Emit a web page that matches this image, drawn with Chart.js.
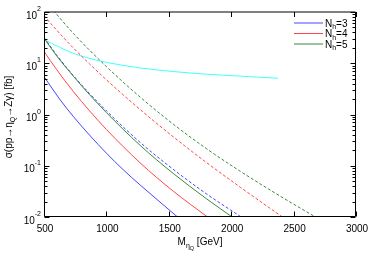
<!DOCTYPE html>
<html>
<head>
<meta charset="utf-8">
<script src="https://cdn.jsdelivr.net/npm/chart.js@4.4.0/dist/chart.umd.min.js"></script>
<style>
html, body { margin: 0; padding: 0; background: #fff; }
#wrap { width: 374px; height: 261px; }
</style>
</head>
<body>
<div id="wrap"><canvas id="chart" width="374" height="261"></canvas></div>
<script>
// valeurs (masse en GeV, sigma en fb)
const massNh3 = [500, 625, 735, 865, 1000, 1135, 1270, 1405, 1570];
const sigmaNh3 = [5.5, 2.0, 0.915, 0.396, 0.176, 0.0836, 0.0422, 0.022, 0.0100];

const massNh4 = [500, 600, 735, 865, 1000, 1270, 1535, 1810];
const sigmaNh4 = [17, 7.6, 2.81, 1.18, 0.51, 0.114, 0.032, 0.0100];

const massNh5 = [500, 600, 735, 865, 1000, 1270, 1535, 1805, 2008];
const sigmaNh5 = [31, 14.1, 5.6, 2.43, 1.09, 0.25, 0.071, 0.0224, 0.0100];

const massNh3b = [500, 600, 735, 865, 1000, 1270, 1535, 1805, 2080];
const sigmaNh3b = [32, 14.6, 5.75, 2.56, 1.18, 0.286, 0.0854, 0.0279, 0.0100];

const massNh4b = [500, 600, 735, 865, 1000, 1270, 1535, 1805, 2075, 2410];
const sigmaNh4b = [85, 44.7, 19.9, 9.7, 4.75, 1.25, 0.368, 0.114, 0.0378, 0.0100];

const massNh5b = [500, 586, 735, 1000, 1270, 1535, 1805, 2075, 2395, 2675];
const sigmaNh5b = [181, 100, 38.3, 8.6, 2.19, 0.65, 0.213, 0.0774, 0.0253, 0.0100];

const massCyan = [500, 625, 735, 895, 1000, 1270, 1535, 1805, 2075, 2375];
const sigmaCyan = [29, 20.5, 15.6, 11.9, 10.4, 8.1, 6.9, 6.1, 5.6, 5.1];

const xTicks = [500, 1000, 1500, 2000, 2500, 3000];
const yExponents = [-2, -1, 0, 1, 2];
const legendLabels = ['3', '4', '5'];

const azul = '#4646ff';
const rojo = '#ff4646';
const verde = '#3a8a3a';
const cian = '#40ffff';

const pts = (m, s) => m.map((v, i) => ({ x: v, y: s[i] }));

const fuente = '"Liberation Sans", Arial, sans-serif';

// texto con sub/superindices: partes = [[texto, tamaño, desplazamiento]]
const anchoTexto = (ctx, partes) => partes.reduce((w, p) => {
    ctx.font = p[1] + 'px ' + fuente;
    return w + ctx.measureText(p[0]).width;
}, 0);

const dibujarTexto = (ctx, partes, x, y) => {
    let cx = x;
    partes.forEach(p => {
        ctx.font = p[1] + 'px ' + fuente;
        ctx.fillText(p[0], cx, y + p[2]);
        cx += ctx.measureText(p[0]).width;
    });
};

const marco = {
    id: 'marco',
    afterDraw(chart) {
        const { ctx, chartArea: a, scales: { x, y } } = chart;
        const L = Math.round(a.left) + 0.5, R = Math.round(a.right) - 0.5;
        const B = Math.round(a.bottom) - 0.5, T = a.top;
        ctx.save();
        ctx.strokeStyle = '#000';
        ctx.lineWidth = 1;
        ctx.beginPath();
        ctx.moveTo(L, T); ctx.lineTo(R, T); ctx.lineTo(R, B); ctx.lineTo(L, B); ctx.closePath();
        xTicks.forEach(v => {
            const px = Math.round(x.getPixelForValue(v)) + 0.5;
            ctx.moveTo(px, B); ctx.lineTo(px, B - 5);
            ctx.moveTo(px, T); ctx.lineTo(px, T + 5);
        });
        yExponents.forEach(e => {
            const py = Math.round(y.getPixelForValue(Math.pow(10, e))) + 0.5;
            ctx.moveTo(L, py); ctx.lineTo(L + 5, py);
            ctx.moveTo(R, py); ctx.lineTo(R - 5, py);
            if (e < 2) {
                for (let k = 2; k <= 9; k++) {
                    const pm = Math.round(y.getPixelForValue(k * Math.pow(10, e))) + 0.5;
                    ctx.moveTo(L, pm); ctx.lineTo(L + 3, pm);
                    ctx.moveTo(R, pm); ctx.lineTo(R - 3, pm);
                }
            }
        });
        ctx.stroke();

        ctx.fillStyle = '#000';
        ctx.textBaseline = 'alphabetic';
        ctx.textAlign = 'left';
        ctx.font = '10px ' + fuente;
        xTicks.forEach(v => {
            const px = x.getPixelForValue(v);
            const w = ctx.measureText(String(v)).width;
            ctx.fillText(String(v), px - w / 2 + 1, 232);
        });
        yExponents.forEach(e => {
            const py = y.getPixelForValue(Math.pow(10, e));
            const partes = [['10', 10, 6.5], [String(e), 7, -1]];
            const w = anchoTexto(ctx, partes);
            dibujarTexto(ctx, partes, 41 - w, py);
        });

        // titulo eje x
        const tx = [['M', 10, 0], ['\u03B7', 7, 3], ['Q', 5.5, 5], [' [GeV]', 10, 0]];
        const wx = anchoTexto(ctx, tx);
        dibujarTexto(ctx, tx, (a.left + a.right) / 2 - wx / 2, 245);

        // titulo eje y
        const ty = [['\u03C3(pp\u2192\u03B7', 10, 0], ['Q', 7, 3], ['\u2192Z\u03B3) [fb]', 10, 0]];
        const wy = anchoTexto(ctx, ty);
        const largo = 108;
        ctx.save();
        ctx.translate(12, 117);
        ctx.rotate(-Math.PI / 2);
        if (wy > largo) ctx.scale(largo / wy, 1);
        dibujarTexto(ctx, ty, -wy / 2, 0);
        ctx.restore();

        // leyenda
        const colores = [azul, rojo, verde];
        legendLabels.forEach((lab, i) => {
            const ry = 23 + i * 10.5;
            ctx.strokeStyle = colores[i];
            ctx.beginPath();
            ctx.moveTo(294, ry); ctx.lineTo(323, ry);
            ctx.stroke();
            dibujarTexto(ctx, [['N', 10, 3.5], ['h', 7, 6], ['=' + lab, 10, 3.5]], 325, ry);
        });
        ctx.restore();
    }
};

const serie = (m, s, color, dash) => ({
    data: pts(m, s),
    borderColor: color,
    borderWidth: 1,
    borderDash: dash ? [3, 2] : [],
    pointRadius: 0,
    fill: false,
    cubicInterpolationMode: 'monotone'
});

new Chart(document.getElementById('chart').getContext('2d'), {
    type: 'line',
    data: {
        datasets: [
            serie(massNh3, sigmaNh3, azul, false),
            serie(massNh4, sigmaNh4, rojo, false),
            serie(massNh5, sigmaNh5, verde, false),
            serie(massNh3b, sigmaNh3b, azul, true),
            serie(massNh4b, sigmaNh4b, rojo, true),
            serie(massNh5b, sigmaNh5b, verde, true),
            serie(massCyan, sigmaCyan, cian, false)
        ]
    },
    options: {
        responsive: false,
        animation: false,
        devicePixelRatio: 1,
        layout: { padding: { top: 12, right: 18, left: 0, bottom: 0 } },
        plugins: { legend: { display: false }, tooltip: { enabled: false } },
        scales: {
            x: {
                type: 'linear', min: 500, max: 3000,
                grid: { display: false }, border: { display: false },
                ticks: { display: false },
                afterFit: s => { s.height = 44; }
            },
            y: {
                type: 'logarithmic', min: 0.01, max: 100,
                grid: { display: false }, border: { display: false },
                ticks: { display: false },
                afterFit: s => { s.width = 44; }
            }
        }
    },
    plugins: [marco]
});
</script>
</body>
</html>
